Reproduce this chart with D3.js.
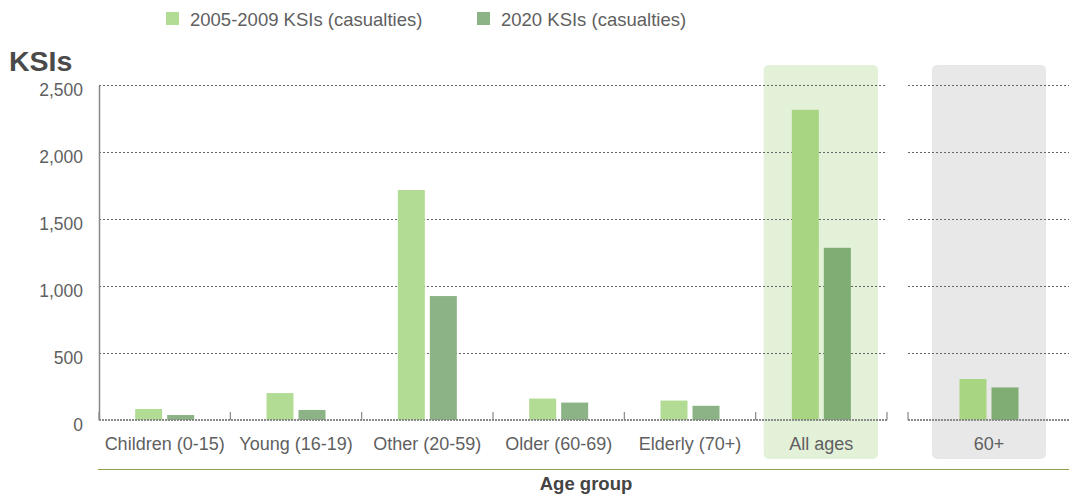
<!DOCTYPE html>
<html>
<head>
<meta charset="utf-8">
<script src="https://cdn.jsdelivr.net/npm/d3@7"></script>
<style>
  body { margin: 0; background: #fff; }
  svg { font-family: "Liberation Sans", Arial, sans-serif; }
</style>
</head>
<body>
<svg width="1069" height="495"></svg>
<script>
// Data
const categories = ["Children (0-15)", "Young (16-19)", "Other (20-59)", "Older (60-69)", "Elderly (70+)", "All ages"];
const extraCategories = ["60+"];
const series = ["2005-2009 KSIs (casualties)", "2020 KSIs (casualties)"];
const base = [82, 201, 1716, 160, 145, 2315];
const recent = [37, 75, 925, 130, 106, 1285];
const extraBase = [306];
const extraRecent = [243];
const yTicks = [0, 500, 1000, 1500, 2000, 2500];

const svg = d3.select("svg");
const textColor = "#5f5f5f";

// Scales
const y = d3.scaleLinear().domain([0, 2500]).range([420, 85]);
const x = d3.scaleBand().domain(categories).range([99, 887]);
const x2 = d3.scaleBand().domain(extraCategories).range([908, 1070]);
const xs = d3.scaleBand().domain(series).range([-29.5, 29.5]).paddingInner(0.156);

// Highlight boxes
const boxTop = 65, boxBottom = 459;
svg.append("rect")
  .attr("x", x("All ages") + 8).attr("width", x.bandwidth() - 17)
  .attr("y", boxTop).attr("height", boxBottom - boxTop)
  .attr("rx", 5).attr("fill", "#e3f1d9");
svg.append("rect")
  .attr("x", x2("60+") + 24).attr("width", x2.bandwidth() - 48)
  .attr("y", boxTop).attr("height", boxBottom - boxTop)
  .attr("rx", 5).attr("fill", "#e8e8e8");

// Gridlines
[[99, 887], [908, 1069]].forEach(([a, b]) => {
  svg.append("g").selectAll("line")
    .data(yTicks.filter(d => d > 0))
    .join("line")
    .attr("x1", a).attr("x2", b)
    .attr("y1", d => Math.round(y(d)) + 0.5).attr("y2", d => Math.round(y(d)) + 0.5)
    .attr("stroke", "#666").attr("stroke-dasharray", "2,2");
});

// Y axis
const yAxis = svg.append("g")
  .attr("transform", "translate(99,0)")
  .call(d3.axisLeft(y).tickValues(yTicks).tickSize(0).tickPadding(16).tickFormat(d3.format(",")));
yAxis.select(".domain").attr("stroke", "#888").attr("stroke-width", 1.5);
yAxis.selectAll("text")
  .attr("font-size", 17.5).attr("fill", textColor)
  .attr("font-family", "Liberation Sans, Arial, sans-serif")
  .attr("dy", "0.6em");

// Bars
const lightCol = c => c === "All ages" || c === "60+" ? "#a8d581" : "#b2dc93";
const darkCol = c => c === "All ages" || c === "60+" ? "#7fad74" : "#8cb386";

function drawBars(scale, cats, v1, v2) {
  const rows = cats.map((c, i) => ({ c, vals: [v1[i], v2[i]] }));
  const g = svg.append("g").selectAll("g").data(rows).join("g")
    .attr("transform", d => `translate(${scale(d.c) + scale.bandwidth() / 2},0)`);
  g.selectAll("rect")
    .data(d => d.vals.map((v, j) => ({ c: d.c, s: series[j], v })))
    .join("rect")
    .attr("x", d => xs(d.s))
    .attr("width", xs.bandwidth())
    .attr("y", d => y(d.v))
    .attr("height", d => y(0) - y(d.v))
    .attr("fill", d => d.s === series[0] ? lightCol(d.c) : darkCol(d.c));
}
drawBars(x, categories, base, recent);
drawBars(x2, extraCategories, extraBase, extraRecent);

// Baseline with category boundary ticks
function drawBaseline(a, b, bounds) {
  svg.append("line")
    .attr("x1", a).attr("x2", b).attr("y1", 420).attr("y2", 420)
    .attr("stroke", "#8a8a8a").attr("stroke-width", 2).attr("stroke-dasharray", "2,1");
  svg.append("g").selectAll("line").data(bounds).join("line")
    .attr("x1", d => d).attr("x2", d => d)
    .attr("y1", 420).attr("y2", 412)
    .attr("stroke", "#888").attr("stroke-width", 1.2);
}
drawBaseline(99, 887, categories.map(c => x(c) + x.bandwidth()).concat([99]));
drawBaseline(908, 1069, [908]);

// Category labels
svg.append("g").selectAll("text")
  .data(categories.map(c => ({ c, pos: x(c) + x.bandwidth() / 2 }))
    .concat(extraCategories.map(c => ({ c, pos: x2(c) + x2.bandwidth() / 2 }))))
  .join("text")
  .attr("x", d => d.pos).attr("y", 450)
  .attr("text-anchor", "middle")
  .attr("font-size", 18).attr("fill", textColor)
  .text(d => d.c);

// Bottom rule and x title
svg.append("line")
  .attr("x1", 98).attr("x2", 1069).attr("y1", 469.5).attr("y2", 469.5)
  .attr("stroke", "#8ba34b").attr("stroke-width", 1.2);
svg.append("text")
  .attr("x", 586).attr("y", 490)
  .attr("text-anchor", "middle")
  .attr("font-size", 18.5).attr("font-weight", "bold").attr("fill", "#444")
  .text("Age group");

// Y title
svg.append("text")
  .attr("x", 9).attr("y", 71)
  .attr("font-size", 28.5).attr("font-weight", "bold").attr("fill", "#4a4a4a")
  .text("KSIs");

// Legend
const legendX = [166, 477];
const legend = svg.append("g").selectAll("g").data(series).join("g")
  .attr("transform", (d, i) => `translate(${legendX[i]},12)`);
legend.append("rect")
  .attr("width", 13).attr("height", 13)
  .attr("fill", (d, i) => i === 0 ? "#b2dc93" : "#8cb386");
legend.append("text")
  .attr("x", 24).attr("y", 14)
  .attr("font-size", 18.5).attr("fill", textColor)
  .text(d => d);
</script>
</body>
</html>
